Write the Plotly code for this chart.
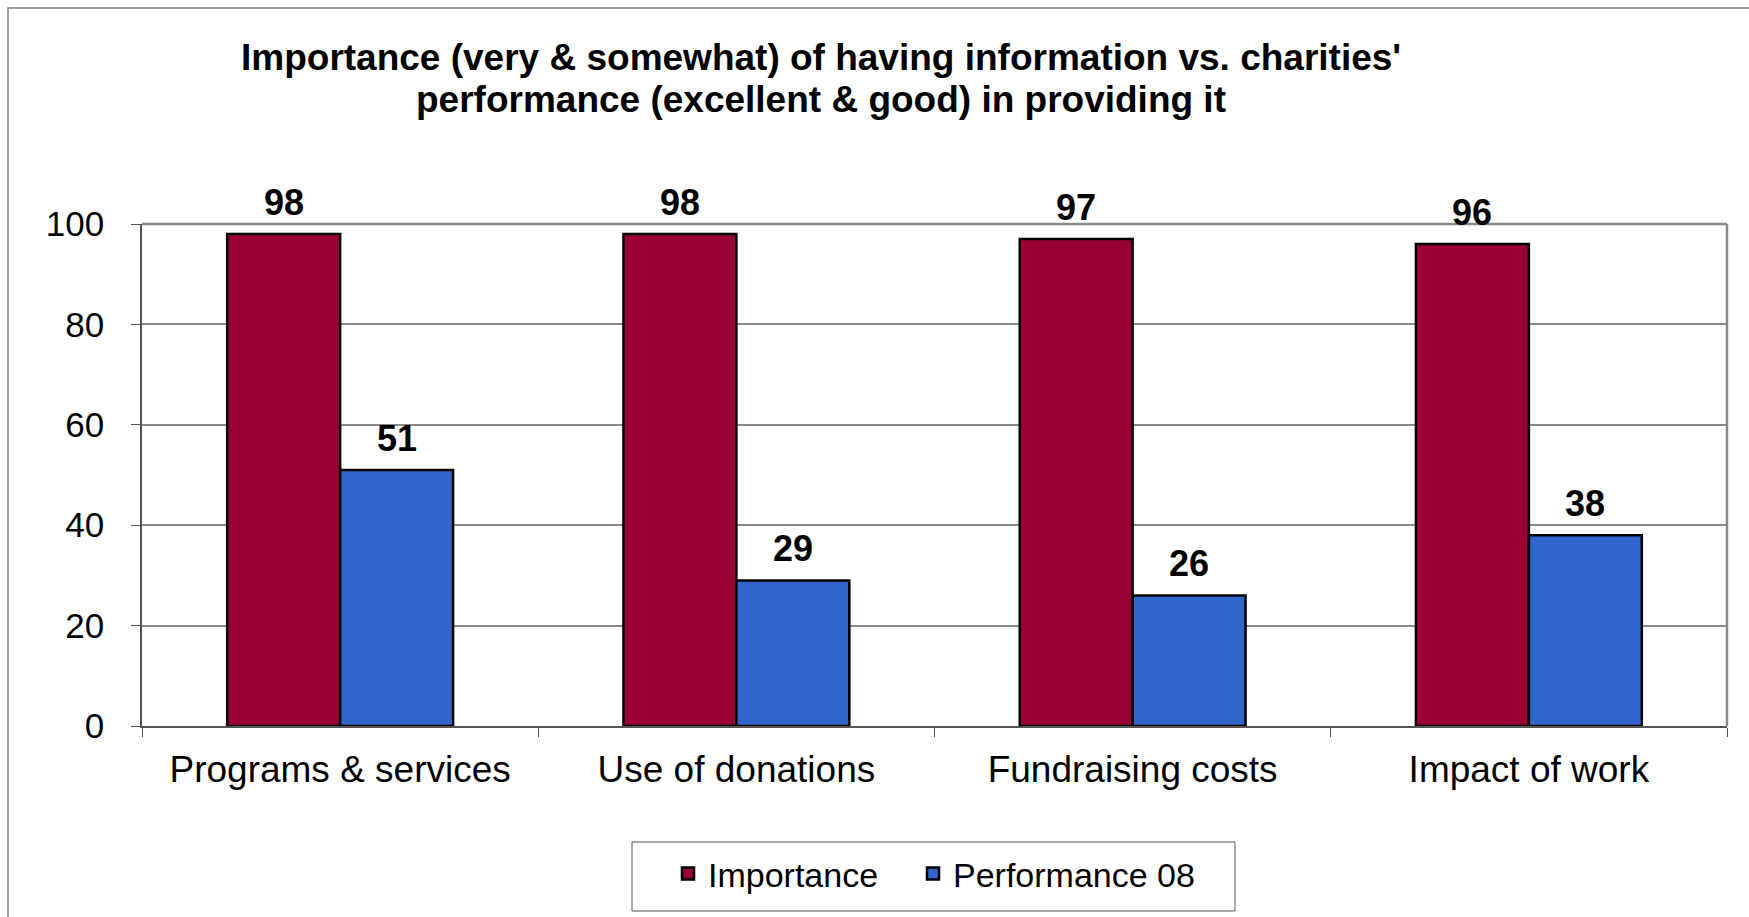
import plotly.graph_objects as go

# Survey results: share of respondents (%)
categories = ["Programs & services", "Use of donations", "Fundraising costs", "Impact of work"]
importance = [98, 98, 97, 96]
performance_08 = [51, 29, 26, 38]
y_ticks = [0, 20, 40, 60, 80, 100]
title_lines = [
    "Importance (very & somewhat) of having information vs. charities'",
    "performance (excellent & good) in providing it",
]

W, H = 1749, 917
L, R, T, B = 142, 22, 224, 191
pw, ph = W - L - R, H - T - B
BARGAP = 0.43

def px_x(x):
    return (x - L) / pw

def px_y(y):
    return (H - B - y) / ph

FONT = "Liberation Sans, Arial, sans-serif"
LABEL_FONT = dict(family=FONT, size=36, color="black", weight="bold")
LEGEND_FONT = dict(family=FONT, size=34, color="black")

fig = go.Figure()
fig.add_trace(go.Bar(
    name="Importance", x=categories, y=importance, legend="legend",
    marker=dict(color="#990033", line=dict(color="black", width=2.5)),
))
fig.add_trace(go.Bar(
    name="Performance 08", x=categories, y=performance_08, legend="legend2",
    marker=dict(color="#3366CC", line=dict(color="black", width=2.5)),
))

# value labels above each bar
bar_w = pw / len(categories) * (1 - BARGAP) / 2
for values, shift in ((importance, -bar_w / 2), (performance_08, bar_w / 2)):
    for cat, v in zip(categories, values):
        fig.add_annotation(x=cat, y=v, xref="x", yref="y", text=str(v),
                           showarrow=False, xanchor="center", yanchor="bottom",
                           xshift=shift, yshift=9, font=LABEL_FONT)

# chart title, one annotation per line
for line, y_mid in zip(title_lines, (57, 99)):
    fig.add_annotation(
        text=line, xref="paper", yref="paper", x=px_x(821), y=px_y(y_mid),
        xanchor="center", yanchor="middle", showarrow=False,
        font=dict(family=FONT, size=37, color="black", weight="bold"),
    )

# outer chart frame
fig.add_shape(type="rect", xref="paper", yref="paper",
              x0=px_x(8), x1=px_x(1765), y0=px_y(8), y1=px_y(935),
              line=dict(color="#7f7f7f", width=1.5), layer="below")
# plot-area frame on top and right
fig.add_shape(type="line", xref="paper", yref="paper", x0=0, x1=1, y0=1, y1=1,
              line=dict(color="#8a8a8a", width=2.5))
fig.add_shape(type="line", xref="paper", yref="paper", x0=1, x1=1, y0=0, y1=1,
              line=dict(color="#8a8a8a", width=2.5))
# legend box
fig.add_shape(type="rect", xref="paper", yref="paper",
              x0=px_x(632), x1=px_x(1235), y0=px_y(842), y1=px_y(911),
              line=dict(color="#555555", width=1), fillcolor="white", layer="below")

legend_common = dict(orientation="h", xanchor="left", y=px_y(845), yanchor="top",
                     borderwidth=0, bgcolor="rgba(0,0,0,0)", font=LEGEND_FONT,
                     itemwidth=30)
fig.update_layout(
    width=W, height=H,
    margin=dict(l=L, r=R, t=T, b=B),
    paper_bgcolor="white", plot_bgcolor="white",
    barmode="group", bargap=BARGAP, bargroupgap=0,
    font=dict(family=FONT, color="black"),
    legend=dict(x=px_x(668), **legend_common),
    legend2=dict(x=px_x(913), **legend_common),
    showlegend=True,
)
fig.update_yaxes(
    range=[0, 100], tickvals=y_ticks, ticktext=[str(v) for v in y_ticks],
    showgrid=True, gridcolor="#8a8a8a", gridwidth=1.5,
    showline=True, linecolor="#555555", linewidth=1.5,
    ticks="outside", ticklen=9, tickcolor="#555555", ticklabelstandoff=20,
    tickfont=dict(family=FONT, size=35, color="black"),
    zeroline=False,
)
fig.update_xaxes(
    showline=True, linecolor="#555555", linewidth=1.5,
    ticks="outside", tickson="boundaries", ticklen=9, tickcolor="#555555",
    ticklabelstandoff=10,
    tickfont=dict(family=FONT, size=37, color="black"),
)

fig.write_html("out.html")
